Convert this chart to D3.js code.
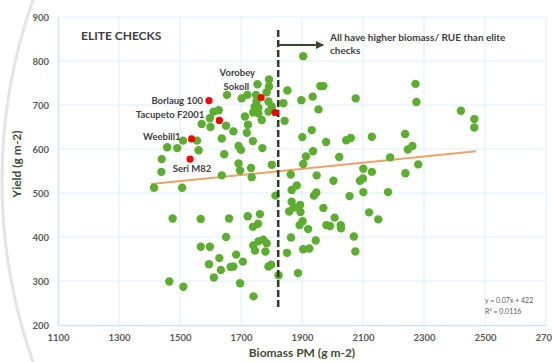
<html>
<head>
<meta charset="utf-8">
<title>Elite checks</title>
<script src="https://cdn.jsdelivr.net/npm/d3@7"></script>
<style>
  body { margin: 0; background: #fff; }
  text { font-family: Lato, "Liberation Sans", sans-serif; }
</style>
</head>
<body>
<script>
// biomass (x) and yield (y) of the lines
var biomass = [1904,1754,1792,1792,1784,1852,1654,1702,1721,1749,1751,1790,1745,1757,1801,1740,1757,1790,1768,1839,
  1843,1898,1935,1954,1960,1970,2076,2272,2275,2421,2465,2465,1610,1627,1598,1571,1600,1651,1675,1713,
  1723,1719,1637,1510,1556,1458,1491,1561,1692,1700,1739,1645,1440,1439,1692,1733,1637,1415,1507,1697,
  1735,1801,1813,1863,1948,2003,2090,2100,2101,2129,2239,1883,1866,1947,1939,1932,1901,1979,2045,2060,
  2129,2238,2262,2247,1770,1936,1913,2022,2189,1904,2281,2182,2056,2101,1866,1894,1858,1873,1895,1970,
  2120,2150,1902,1892,1920,1980,1992,2007,2027,2028,1864,1945,2070,1851,1904,1924,2075,1799,1790,1887,
  1823,1741,1476,1568,1661,1722,1762,1739,1756,1651,1568,1598,1740,1757,1773,1784,1746,1780,1629,1684,
  1595,1706,1634,1666,1675,1611,1465,1511,1697];
var yieldV = [811,747,758,742,729,733,723,715,723,723,708,708,696,694,696,683,681,685,666,704,
  664,711,719,690,743,743,715,748,707,687,668,649,685,688,670,657,650,653,640,674,
  655,637,624,619,619,604,602,597,607,598,618,588,577,548,567,557,540,512,512,551,
  536,564,494,542,540,528,528,533,555,548,545,517,507,501,494,643,627,616,620,625,
  628,634,607,599,602,595,583,582,581,566,565,502,493,502,480,473,458,467,457,466,
  456,440,436,427,418,427,425,444,427,420,399,392,401,364,372,374,367,337,333,318,
  313,265,442,441,442,447,452,423,430,400,378,378,381,390,394,386,369,367,352,360,
  338,344,325,332,333,308,299,287,295];

// elite checks (red)
var checkNames = ["Borlaug 100", "Tacupeto F2001", "Weebill1", "Seri M82", "Vorobey", "Sokoll"];
var checkX = [1595, 1629, 1538, 1533, 1766, 1812];
var checkY = [710, 665, 623, 577, 717, 683];

var xTicks = [1100, 1300, 1500, 1700, 1900, 2100, 2300, 2500, 2700];
var yTicks = [200, 300, 400, 500, 600, 700, 800, 900];

// linear trend as printed on the chart
var slope = 0.07, intercept = 422;
var trendRange = [1405, 2470];
var cutoff = 1822;

var width = 552, height = 362;
var m = {left: 58, right: 6, top: 17, bottom: 37};

var svg = d3.select("body").append("svg")
  .attr("width", width)
  .attr("height", height);

// decorative arc on the left edge
svg.append("circle")
  .attr("cx", 546).attr("cy", 181).attr("r", 544)
  .attr("fill", "none")
  .attr("stroke", "#e4e4e4")
  .attr("stroke-width", 3);

var x = d3.scaleLinear().domain([1100, 2700]).range([m.left, width - m.right]);
var y = d3.scaleLinear().domain([200, 900]).range([height - m.bottom, m.top]);

// gridlines
svg.append("g").selectAll("line")
  .data(yTicks.slice(1))
  .enter().append("line")
  .attr("x1", x(1100)).attr("x2", x(2700))
  .attr("y1", function(d) { return y(d); })
  .attr("y2", function(d) { return y(d); })
  .attr("stroke", "#ddeff8").attr("stroke-width", 1);

svg.append("g").selectAll("line")
  .data(xTicks.slice(1))
  .enter().append("line")
  .attr("x1", function(d) { return x(d); })
  .attr("x2", function(d) { return x(d); })
  .attr("y1", y(900)).attr("y2", y(200))
  .attr("stroke", "#ddeff8").attr("stroke-width", 1);

var xAxis = svg.append("g")
  .attr("transform", "translate(0," + y(200) + ")")
  .call(d3.axisBottom(x).tickValues(xTicks).tickSize(0).tickPadding(9).tickFormat(d3.format("d")));
var yAxis = svg.append("g")
  .attr("transform", "translate(" + x(1100) + ",0)")
  .call(d3.axisLeft(y).tickValues(yTicks).tickSize(0).tickPadding(9).tickFormat(d3.format("d")));

[xAxis, yAxis].forEach(function(a) {
  a.select(".domain").attr("stroke", "#cfe6f2").attr("stroke-width", 1.5);
  a.selectAll("text")
    .attr("fill", "#595959")
    .style("font-size", "9.5px")
    .style("font-weight", "bold")
    .style("font-family", "Lato, sans-serif");
});

// axis titles
svg.append("text")
  .attr("x", x(1900)).attr("y", 357)
  .attr("text-anchor", "middle")
  .attr("fill", "#3f4d33")
  .style("font-size", "12px").style("font-weight", "bold")
  .text("Biomass PM (g m-2)");

svg.append("text")
  .attr("transform", "translate(21," + 164 + ") rotate(-90)")
  .attr("text-anchor", "middle")
  .attr("fill", "#3f4d33")
  .style("font-size", "12px").style("font-weight", "bold")
  .text("Yield (g m-2)");

svg.append("text")
  .attr("x", 81).attr("y", 40)
  .attr("fill", "#404040")
  .style("font-size", "12px").style("font-weight", "bold")
  .text("ELITE CHECKS");

// trend line
svg.append("line")
  .attr("x1", x(trendRange[0])).attr("y1", y(slope * trendRange[0] + intercept))
  .attr("x2", x(trendRange[1])).attr("y2", y(slope * trendRange[1] + intercept))
  .attr("stroke", "#f0a266").attr("stroke-width", 2);

// green points
var pts = d3.range(biomass.length).map(function(i) { return [biomass[i], yieldV[i]]; });
svg.append("g").selectAll("circle")
  .data(pts)
  .enter().append("circle")
  .attr("cx", function(d) { return x(d[0]); })
  .attr("cy", function(d) { return y(d[1]); })
  .attr("r", 4.2)
  .attr("fill", "#5cae2e");

// dashed cut-off line and arrow
svg.append("line")
  .attr("x1", x(cutoff)).attr("x2", x(cutoff))
  .attr("y1", 30).attr("y2", y(237))
  .attr("stroke", "#2f3a2a").attr("stroke-width", 2.5)
  .attr("stroke-dasharray", "7,3");

svg.append("defs").append("marker")
  .attr("id", "arr").attr("viewBox", "0 0 10 10")
  .attr("refX", 9).attr("refY", 5)
  .attr("markerWidth", 4).attr("markerHeight", 4)
  .attr("orient", "auto")
  .append("path").attr("d", "M0,0L10,5L0,10z").attr("fill", "#34492a");

svg.append("line")
  .attr("x1", x(cutoff)).attr("x2", x(cutoff) + 45)
  .attr("y1", 45).attr("y2", 45)
  .attr("stroke", "#34492a").attr("stroke-width", 2)
  .attr("marker-end", "url(#arr)");

var note = svg.append("text")
  .attr("x", 330).attr("y", 41)
  .attr("fill", "#404040")
  .style("font-size", "10px").style("font-weight", "bold");
note.append("tspan").attr("x", 330).text("All have higher biomass/ RUE than elite");
note.append("tspan").attr("x", 330).attr("dy", 13).text("checks");

// red check points with names
var labelPos = [[-6, 3.5, "end"], [-15, -2, "end"], [-11, 1, "end"], [2, 13, "middle"], [-6, -22, "end"], [-26, -22, "end"]];

svg.append("g").selectAll("circle")
  .data(checkNames)
  .enter().append("circle")
  .attr("cx", function(d, i) { return x(checkX[i]); })
  .attr("cy", function(d, i) { return y(checkY[i]); })
  .attr("r", 3.6)
  .attr("fill", "#ff0000");

svg.append("g").selectAll("text")
  .data(checkNames)
  .enter().append("text")
  .attr("x", function(d, i) { return x(checkX[i]) + labelPos[i][0]; })
  .attr("y", function(d, i) { return y(checkY[i]) + labelPos[i][1]; })
  .attr("text-anchor", function(d, i) { return labelPos[i][2]; })
  .attr("fill", "#404040")
  .style("font-size", "9.5px").style("font-weight", "bold")
  .text(function(d) { return d; });

// equation
svg.append("text")
  .attr("x", 485).attr("y", 303)
  .attr("fill", "#595959").style("font-size", "7px")
  .text("y = 0.07x + 422");
svg.append("text")
  .attr("x", 485).attr("y", 314)
  .attr("fill", "#595959").style("font-size", "7px")
  .text("R² = 0.0116");
</script>
</body>
</html>
